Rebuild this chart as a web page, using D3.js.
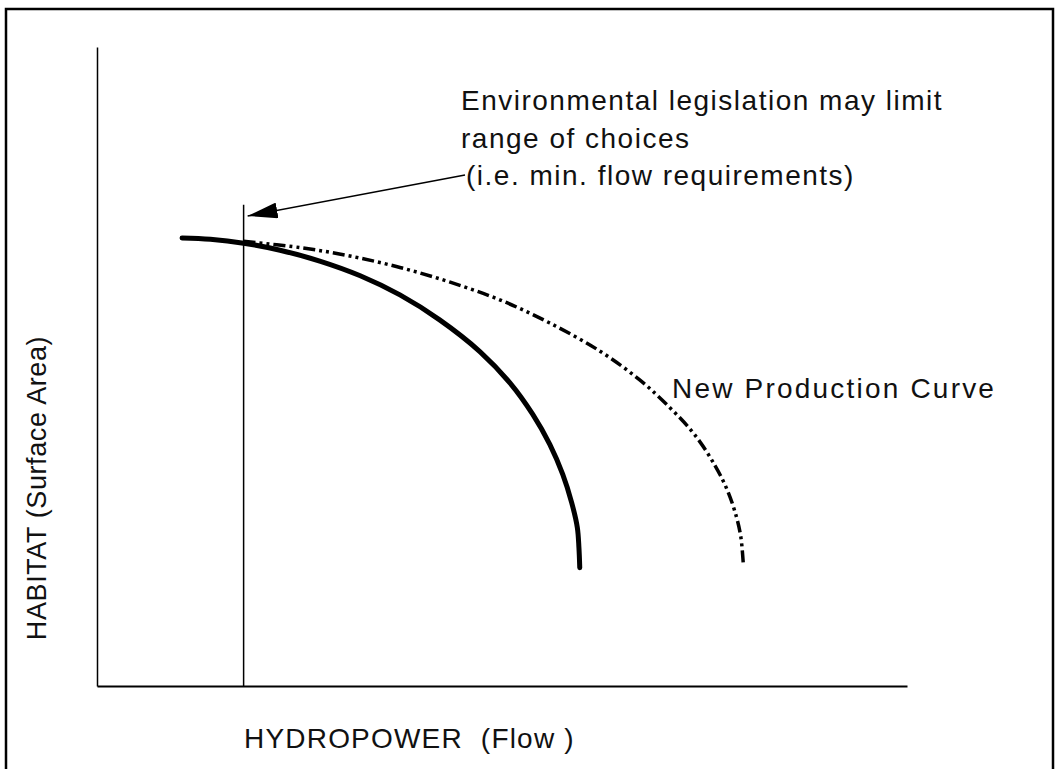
<!DOCTYPE html>
<html><head><meta charset="utf-8">
<script src="https://cdn.jsdelivr.net/npm/d3@7"></script>
<style>body{margin:0;background:#fff}svg{display:block}text{font-family:"Liberation Sans",Arial,sans-serif;fill:#111;white-space:pre}</style>
</head><body>
<script>
// Data (abstract units: flow 0-100, habitat 0-100)
const currentCurveFlow    = [10.5,14.0,18.1,22.6,27.5,32.5,37.4,42.3,47.3,51.0,53.8,55.9,57.5,58.6,59.3,59.5,59.6];
const currentCurveHabitat = [70.1,69.9,69.3,68.2,66.5,64.2,61.2,57.3,52.3,47.4,42.5,37.8,33.1,28.7,24.8,21.6,18.5];
const newCurveFlow    = [18.1,25.1,31.2,37.4,43.6,49.8,55.9,62.1,67.0,70.7,73.8,76.3,77.9,79.0,79.5,79.8];
const newCurveHabitat = [69.6,68.6,67.3,65.5,63.2,60.4,56.8,52.4,47.9,43.6,39.3,34.5,30.4,26.2,23.2,18.9];
const minFlow = 18.1, minFlowTop = 75.3;
const xLabel = "HYDROPOWER  (Flow )";
const yLabel = "HABITAT (Surface Area)";
const curveLabel = "New Production Curve";
const noteLines = ["Environmental legislation may limit","range of choices","(i.e. min. flow requirements)"];

const W=1055,H=769;
const svg=d3.select("body").append("svg").attr("width",W).attr("height",H);
svg.append("rect").attr("x",6).attr("y",9).attr("width",1047).attr("height",800)
  .attr("fill","none").attr("stroke","#000").attr("stroke-width",2.5);

const x=d3.scaleLinear().domain([0,100]).range([97,907]);
const y=d3.scaleLinear().domain([0,100]).range([686,47]);

svg.append("g").attr("transform",`translate(0,${y(0)})`)
  .call(d3.axisBottom(x).ticks(0).tickSizeOuter(0))
  .call(g=>g.select(".domain").attr("stroke-width",2));
svg.append("g").attr("transform",`translate(${x(0)},0)`)
  .call(d3.axisLeft(y).ticks(0).tickSizeOuter(0))
  .call(g=>g.select(".domain").attr("stroke-width",1.5));

// min flow line
svg.append("line").attr("x1",x(minFlow)).attr("x2",x(minFlow)).attr("y1",y(0)).attr("y2",y(minFlowTop))
  .attr("stroke","#000").attr("stroke-width",1.5);

const line=d3.line().x(d=>x(d[0])).y(d=>y(d[1])).curve(d3.curveCatmullRom.alpha(0.5));
svg.append("path").datum(d3.zip(currentCurveFlow,currentCurveHabitat)).attr("d",line)
  .attr("fill","none").attr("stroke","#000").attr("stroke-width",5).attr("stroke-linecap","round");
svg.append("path").datum(d3.zip(newCurveFlow,newCurveHabitat)).attr("d",line)
  .attr("fill","none").attr("stroke","#000").attr("stroke-width",3.5)
  .attr("stroke-dasharray","12,4,3,4,3,4");

// arrow
svg.append("defs").append("marker").attr("id","ah").attr("viewBox","0 0 30 16").attr("refX",30).attr("refY",8)
  .attr("markerUnits","userSpaceOnUse").attr("markerWidth",30).attr("markerHeight",16).attr("orient","auto")
  .append("path").attr("d","M0,0L30,8L0,16Z").attr("fill","#000");
svg.append("line").attr("x1",465).attr("y1",175).attr("x2",x(minFlow)+4).attr("y2",216)
  .attr("stroke","#000").attr("stroke-width",1.5).attr("marker-end","url(#ah)");

const fs=28;
svg.selectAll(".note").data(noteLines).join("text").attr("class","note")
  .attr("x",(d,i)=>i==2?466:461).attr("y",(d,i)=>110+i*37.5).attr("font-size",fs)
  .attr("letter-spacing",1.5).text(d=>d);
svg.append("text").attr("x",672).attr("y",398).attr("font-size",fs).attr("letter-spacing",2.2).text(curveLabel);
svg.append("text").attr("x",244).attr("y",748).attr("font-size",fs).attr("letter-spacing",1.2).text(xLabel);
svg.append("text").attr("transform","translate(46,488) rotate(-90)").attr("text-anchor","middle")
  .attr("font-size",27).attr("letter-spacing",0.6).text(yLabel);
</script>
</body></html>
